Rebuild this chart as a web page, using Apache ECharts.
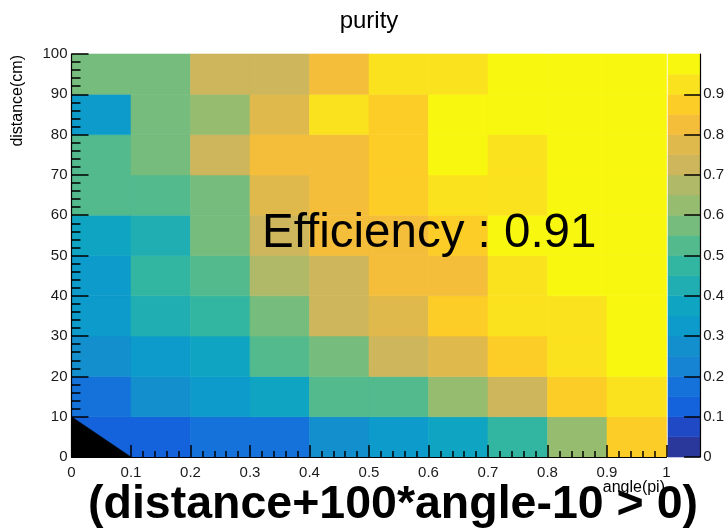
<!DOCTYPE html>
<html>
<head>
<meta charset="utf-8">
<script src="https://cdn.jsdelivr.net/npm/echarts@6/dist/echarts.min.js"></script>
<style>
html,body{margin:0;padding:0;background:#fff;}
#chart{width:727px;height:530px;}
</style>
</head>
<body>
<div id="chart"></div>
<script>
// ---- data ----
const angleEdges = [0, 0.1, 0.2, 0.3, 0.4, 0.5, 0.6, 0.7, 0.8, 0.9, 1.0];
const distanceEdges = [0, 10, 20, 30, 40, 50, 60, 70, 80, 90, 100];
// purity per distance bin (row, bottom to top) and angle bin (column, left to right)
const purity0  = [0.12, 0.12, 0.16, 0.17, 0.27, 0.31, 0.37, 0.47, 0.62, 0.87]; // 0-10 cm
const purity1  = [0.17, 0.27, 0.32, 0.37, 0.52, 0.52, 0.62, 0.72, 0.87, 0.92]; // 10-20
const purity2  = [0.27, 0.32, 0.37, 0.52, 0.57, 0.72, 0.77, 0.87, 0.92, 0.97]; // 20-30
const purity3  = [0.32, 0.42, 0.47, 0.57, 0.72, 0.77, 0.87, 0.92, 0.92, 0.97]; // 30-40
const purity4  = [0.32, 0.47, 0.52, 0.67, 0.72, 0.82, 0.82, 0.92, 0.97, 0.97]; // 40-50
const purity5  = [0.37, 0.42, 0.57, 0.72, 0.82, 0.82, 0.87, 0.97, 0.97, 0.97]; // 50-60
const purity6  = [0.52, 0.52, 0.57, 0.77, 0.82, 0.87, 0.92, 0.92, 0.97, 0.97]; // 60-70
const purity7  = [0.52, 0.57, 0.72, 0.82, 0.82, 0.87, 0.97, 0.92, 0.97, 0.97]; // 70-80
const purity8  = [0.32, 0.57, 0.62, 0.77, 0.92, 0.87, 0.97, 0.97, 0.97, 0.97]; // 80-90
const purity9  = [0.57, 0.57, 0.72, 0.74, 0.82, 0.92, 0.92, 0.97, 0.97, 0.97]; // 90-100
const purityRows = [purity0, purity1, purity2, purity3, purity4, purity5, purity6, purity7, purity8, purity9];
// colour scale levels (20 contours from 0 to 1)
const levelEdges = [0, 0.05, 0.1, 0.15, 0.2, 0.25, 0.3, 0.35, 0.4, 0.45, 0.5, 0.55, 0.6, 0.65, 0.7, 0.75, 0.8, 0.85, 0.9, 0.95, 1.0];
const xTickLabels = [0, 0.1, 0.2, 0.3, 0.4, 0.5, 0.6, 0.7, 0.8, 0.9, 1];
const yTickLabels = [0, 10, 20, 30, 40, 50, 60, 70, 80, 90, 100];
const zTickLabels = [0, 0.1, 0.2, 0.3, 0.4, 0.5, 0.6, 0.7, 0.8, 0.9];
// graphical cut region (distance + 100*angle - 10 <= 0)
const cutVertices = [[0, 0], [0, 10], [0.1, 0]];
const titleText = 'purity';
const xTitle = 'angle(pi)';
const yTitle = 'distance(cm)';
const effText = 'Efficiency : 0.91';
const cutText = '(distance+100*angle-10 > 0)';

// ---- style ----
const palette = ['#2b389b', '#1f49c5', '#1463dd', '#1472da', '#1683d3', '#128fcc', '#0c9bca',
  '#0fa5c2', '#20aeb3', '#33b6a1', '#52ba8d', '#76bc7c', '#96bc70', '#afb968', '#cdb65b',
  '#e0b94c', '#f4be3b', '#fdcd27', '#fbe21f', '#f8f70f'];
const FONT = '"Liberation Sans", Arial, Helvetica, sans-serif';

const cellData = [];
purityRows.forEach((row, r) => {
  row.forEach((v, c) => {
    cellData.push([angleEdges[c], distanceEdges[r], v, angleEdges[c + 1], distanceEdges[r + 1]]);
  });
});
const barData = [];
for (let k = 0; k < levelEdges.length - 1; k++) {
  const lo = levelEdges[k], hi = levelEdges[k + 1];
  barData.push([0, lo, (lo + hi) / 2, 1, hi]);
}
const pieces = palette.map((col, k) => ({gte: levelEdges[k], lt: levelEdges[k + 1], color: col}));
pieces[pieces.length - 1] = {gte: levelEdges[levelEdges.length - 2], lte: 1.5, color: palette[palette.length - 1]};

function rectItem(params, api) {
  const p1 = api.coord([api.value(0), api.value(4)]);
  const p2 = api.coord([api.value(3), api.value(1)]);
  const col = api.visual('color');
  return {
    type: 'rect',
    shape: {x: p1[0], y: p1[1], width: p2[0] - p1[0], height: p2[1] - p1[1]},
    style: {fill: col, stroke: col, lineWidth: 0.6}
  };
}

const chart = echarts.init(document.getElementById('chart'), null, {renderer: 'canvas'});
const tickLabelStyle = {fontFamily: FONT, fontSize: 15, color: '#1a1a1a'};
chart.setOption({
  animation: false,
  backgroundColor: '#ffffff',
  grid: [
    {left: 71.5, top: 54, width: 595, height: 403, containLabel: false},
    {left: 668, top: 54, width: 33, height: 403, containLabel: false}
  ],
  xAxis: [
    {
      type: 'value', gridIndex: 0, min: 0, max: 1, interval: 0.1, z: 10,
      axisLine: {show: true, onZero: false, lineStyle: {color: '#000', width: 1.2}},
      axisTick: {show: true, inside: true, length: 12, lineStyle: {color: '#000', width: 1.5}},
      minorTick: {show: true, splitNumber: 5, length: 6, lineStyle: {color: '#000', width: 1.5}},
      splitLine: {show: false},
      axisLabel: Object.assign({margin: 8, formatter: v => String(+v.toFixed(2))}, tickLabelStyle)
    },
    {type: 'value', gridIndex: 1, min: 0, max: 1, show: false}
  ],
  yAxis: [
    {
      type: 'value', gridIndex: 0, min: 0, max: 100, interval: 10, z: 10,
      axisLine: {show: true, onZero: false, lineStyle: {color: '#000', width: 1.2}},
      axisTick: {show: true, inside: true, length: 17, lineStyle: {color: '#000', width: 1.5}},
      minorTick: {show: true, splitNumber: 5, length: 9, lineStyle: {color: '#000', width: 1.5}},
      splitLine: {show: false},
      axisLabel: Object.assign({margin: 4}, tickLabelStyle)
    },
    {
      type: 'value', gridIndex: 1, min: 0, max: 1, position: 'right', z: 10,
      axisLine: {show: true, onZero: false, lineStyle: {color: '#000', width: 1.2}},
      axisTick: {show: true, inside: true, length: 16, customValues: zTickLabels, lineStyle: {color: '#000', width: 1.5}},
      splitLine: {show: false},
      axisLabel: Object.assign({margin: 3, customValues: zTickLabels, formatter: v => String(+v.toFixed(2))}, tickLabelStyle)
    }
  ],
  visualMap: {
    type: 'piecewise', show: false, dimension: 2, seriesIndex: [0, 2], pieces: pieces
  },
  series: [
    {
      type: 'custom', xAxisIndex: 0, yAxisIndex: 0, data: cellData,
      encode: {x: [0, 3], y: [1, 4]}, renderItem: rectItem, silent: true, z: 2
    },
    {
      type: 'custom', xAxisIndex: 0, yAxisIndex: 0, data: cutVertices,
      encode: {x: 0, y: 1}, silent: true, z: 3,
      renderItem: function (params, api) {
        if (params.dataIndex !== 0) return null;
        const pts = cutVertices.map(p => api.coord(p));
        return {type: 'polygon', shape: {points: pts}, style: {fill: '#000', stroke: '#000', lineWidth: 0.5}};
      }
    },
    {
      type: 'custom', xAxisIndex: 1, yAxisIndex: 1, data: barData,
      encode: {x: [0, 3], y: [1, 4]}, renderItem: rectItem, silent: true, z: 2
    }
  ],
  graphic: [
    {type: 'text', z: 100, x: 369, y: 21, style: {text: titleText, fill: '#000', font: '24px ' + FONT, textAlign: 'center', align: 'center', textVerticalAlign: 'middle', verticalAlign: 'middle'}},
    {type: 'text', z: 100, x: 17.5, y: 55, rotation: Math.PI / 2, style: {text: yTitle, fill: '#000', font: '16px ' + FONT, textAlign: 'right', align: 'right', textVerticalAlign: 'middle', verticalAlign: 'middle'}},
    {type: 'text', z: 100, x: 665, y: 487.5, style: {text: xTitle, fill: '#000', font: '16px ' + FONT, textAlign: 'right', align: 'right', textVerticalAlign: 'middle', verticalAlign: 'middle'}},
    {type: 'text', z: 100, x: 262, y: 234, style: {text: effText, fill: '#000', font: '47.5px ' + FONT, textAlign: 'left', align: 'left', textVerticalAlign: 'middle', verticalAlign: 'middle'}},
    {type: 'text', z: 100, x: 88, y: 505, style: {text: cutText, fill: '#000', font: 'bold 46.5px ' + FONT, textAlign: 'left', align: 'left', textVerticalAlign: 'middle', verticalAlign: 'middle'}}
  ]
});
</script>
</body>
</html>
